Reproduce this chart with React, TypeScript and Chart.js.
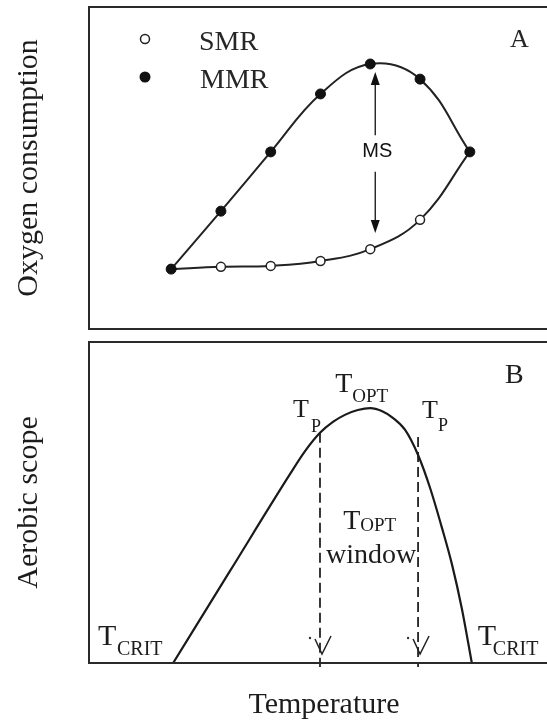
import React, { useEffect, useRef } from 'react';
import { Chart, registerables } from 'chart.js';

Chart.register(...registerables);

// ---------- Panel A: oxygen consumption ----------
const tempSteps = [1, 2, 3, 4, 5, 6, 7];
const mmrValues = [18.6, 36.6, 55.0, 73.0, 82.3, 77.6, 55.0];
const smrValues = [18.6, 19.3, 19.6, 21.1, 24.8, 33.9, 55.0];
const seriesLabels = ['MMR', 'SMR'];
const msArrowX = 5.1;
const msArrowTips = [79.8, 29.8];
const msArrowGap = [60.2, 48.8];
const msLabelValue = 55;

// ---------- Panel B: aerobic scope ----------
const scopeTemps = [1.04, 2.18, 3.39, 3.69, 3.99, 4.25, 4.49, 4.75, 5.0, 5.23, 5.46, 5.7, 5.96, 6.2, 6.44, 6.64, 6.84, 7.04];
const scopeValues = [0, 28.6, 58.9, 66.0, 71.7, 75.1, 77.3, 78.8, 79.4, 78.5, 76.3, 72.6, 64.8, 54.6, 42.1, 30.8, 16.9, 0];
const pejusTemps = [3.99, 5.96];
const pejusTops = [71.7, 70.4];
const pejusBottom = -1.25;
const optTemp = 5;

const axisTitles = ['Oxygen consumption', 'Aerobic scope', 'Temperature'];
const panelTags = ['A', 'B'];

const X_MIN = -0.65;
const X_MAX = 8.55;

const SERIF = '"Liberation Serif", "Times New Roman", serif';
const SANS = '"Liberation Sans", Arial, sans-serif';
const INK = '#1c1c1c';

function txt(ctx: any, s: string, x: number, y: number, size: number, align: any = 'left', family: string = SERIF) {
  ctx.font = `${size}px ${family}`;
  ctx.textAlign = align;
  ctx.textBaseline = 'alphabetic';
  ctx.fillText(s, x, y);
}

// frame with left, top and bottom sides; the right side runs off the picture
function frame(ctx: any, ca: any) {
  ctx.strokeStyle = '#2a2a2a';
  ctx.lineWidth = 2;
  ctx.beginPath();
  ctx.moveTo(ca.right + 5, ca.top);
  ctx.lineTo(ca.left, ca.top);
  ctx.lineTo(ca.left, ca.bottom);
  ctx.lineTo(ca.right + 5, ca.bottom);
  ctx.stroke();
}

function yTitle(ctx: any, ca: any, s: string) {
  ctx.save();
  ctx.translate(37, (ca.top + ca.bottom) / 2);
  ctx.rotate(-Math.PI / 2);
  txt(ctx, s, 0, 0, 30, 'center');
  ctx.restore();
}

const panelAPlugin = {
  id: 'panelA',
  afterDraw(chart: any) {
    const { ctx, chartArea: ca, scales } = chart;
    const xs = scales.x;
    const ys = scales.y;
    ctx.save();
    frame(ctx, ca);
    ctx.fillStyle = INK;
    yTitle(ctx, ca, axisTitles[0]);

    // legend
    const lx = ca.left + 56;
    ctx.lineWidth = 1.5;
    ctx.strokeStyle = '#222';
    ctx.fillStyle = '#fff';
    ctx.beginPath();
    ctx.arc(lx, ca.top + 32, 4.5, 0, Math.PI * 2);
    ctx.fill();
    ctx.stroke();
    ctx.fillStyle = '#111';
    ctx.beginPath();
    ctx.arc(lx, ca.top + 70, 5.5, 0, Math.PI * 2);
    ctx.fill();
    ctx.fillStyle = '#262626';
    txt(ctx, seriesLabels[1], ca.left + 110, ca.top + 43, 28);
    txt(ctx, seriesLabels[0], ca.left + 111, ca.top + 81, 28);

    // panel tag
    txt(ctx, panelTags[0], ca.left + 421, ca.top + 40, 26);

    // MS arrow
    const ax = xs.getPixelForValue(msArrowX);
    const yTop = ys.getPixelForValue(msArrowTips[0]);
    const yBot = ys.getPixelForValue(msArrowTips[1]);
    const g1 = ys.getPixelForValue(msArrowGap[0]);
    const g2 = ys.getPixelForValue(msArrowGap[1]);
    ctx.strokeStyle = '#111';
    ctx.fillStyle = '#111';
    ctx.lineWidth = 1.3;
    ctx.beginPath();
    ctx.moveTo(ax, yTop + 10);
    ctx.lineTo(ax, g1);
    ctx.moveTo(ax, g2);
    ctx.lineTo(ax, yBot - 10);
    ctx.stroke();
    ctx.beginPath();
    ctx.moveTo(ax, yTop);
    ctx.lineTo(ax - 4.5, yTop + 13);
    ctx.lineTo(ax + 4.5, yTop + 13);
    ctx.closePath();
    ctx.fill();
    ctx.beginPath();
    ctx.moveTo(ax, yBot);
    ctx.lineTo(ax - 4.5, yBot - 13);
    ctx.lineTo(ax + 4.5, yBot - 13);
    ctx.closePath();
    ctx.fill();
    ctx.font = `20px ${SANS}`;
    ctx.textAlign = 'center';
    ctx.textBaseline = 'middle';
    ctx.fillText('MS', ax + 2, ys.getPixelForValue(msLabelValue));
    ctx.restore();
  },
};

const panelBPlugin = {
  id: 'panelB',
  afterDraw(chart: any) {
    const { ctx, chartArea: ca, scales } = chart;
    const xs = scales.x;
    ctx.save();
    frame(ctx, ca);
    ctx.fillStyle = INK;
    yTitle(ctx, ca, axisTitles[1]);
    txt(ctx, axisTitles[2], 324, ca.bottom + 50, 30, 'center');
    txt(ctx, panelTags[1], ca.left + 416, ca.top + 41, 28);

    const p1 = xs.getPixelForValue(pejusTemps[0]);
    const p2 = xs.getPixelForValue(pejusTemps[1]);
    const po = xs.getPixelForValue(optTemp);
    const c1 = xs.getPixelForValue(scopeTemps[scopeTemps.length - 1]);

    // open arrowheads at the foot of the dashed lines
    ctx.strokeStyle = '#222';
    ctx.lineWidth = 1.5;
    [p1, p2].forEach((px) => {
      ctx.beginPath();
      ctx.moveTo(px - 5, ca.bottom - 24);
      ctx.lineTo(px + 2, ca.bottom - 9);
      ctx.lineTo(px + 11, ca.bottom - 27);
      ctx.stroke();
      ctx.fillStyle = '#333';
      ctx.beginPath();
      ctx.arc(px - 10, ca.bottom - 25, 1.2, 0, Math.PI * 2);
      ctx.fill();
    });

    ctx.fillStyle = INK;
    // T_CRIT labels
    txt(ctx, 'T', ca.left + 9, ca.bottom - 18, 30);
    txt(ctx, 'CRIT', ca.left + 28, ca.bottom - 8, 20);
    txt(ctx, 'T', c1 + 6, ca.bottom - 18, 30);
    txt(ctx, 'CRIT', c1 + 21, ca.bottom - 8, 20);

    // T_P labels
    txt(ctx, 'T', p1 - 27, ca.top + 75, 26);
    txt(ctx, 'P', p1 - 9, ca.top + 90, 18);
    txt(ctx, 'T', p2 + 4, ca.top + 76, 26);
    txt(ctx, 'P', p2 + 20, ca.top + 89, 18);

    // T_OPT at the peak
    txt(ctx, 'T', po - 35, ca.top + 50, 28);
    txt(ctx, 'OPT', po - 18, ca.top + 60, 19);

    // T_OPT window
    txt(ctx, 'T', po - 27, ca.top + 187, 28);
    txt(ctx, 'OPT', po - 10, ca.top + 189, 19);
    txt(ctx, 'window', (p1 + p2) / 2 + 2, ca.top + 221, 28, 'center');
    ctx.restore();
  },
};

const baseOptions = (padding: any) => ({
  animation: false as const,
  responsive: false,
  maintainAspectRatio: false,
  layout: { padding, autoPadding: false },
  scales: {
    x: { type: 'linear' as const, min: X_MIN, max: X_MAX, display: false },
    y: { type: 'linear' as const, min: 0, max: 100, display: false },
  },
  plugins: { legend: { display: false }, tooltip: { enabled: false } },
});

export default function App() {
  const refA = useRef<HTMLCanvasElement | null>(null);
  const refB = useRef<HTMLCanvasElement | null>(null);

  useEffect(() => {
    const last = smrValues.length - 1;
    const chartA = new Chart(refA.current as HTMLCanvasElement, {
      type: 'line',
      data: {
        datasets: [
          {
            label: seriesLabels[0],
            data: tempSteps.map((x, i) => ({ x, y: mmrValues[i] })),
            borderColor: '#222',
            borderWidth: 2,
            tension: 0.4,
            pointRadius: 5,
            pointBackgroundColor: '#111',
            pointBorderColor: '#111',
            pointBorderWidth: 1,
          },
          {
            label: seriesLabels[1],
            data: tempSteps.map((x, i) => ({ x, y: smrValues[i] })),
            borderColor: '#222',
            borderWidth: 2,
            tension: 0.4,
            pointRadius: smrValues.map((_, i) => (i === 0 || i === last ? 0 : 4.5)),
            pointBackgroundColor: '#fff',
            pointBorderColor: '#222',
            pointBorderWidth: 1.5,
          },
        ],
      },
      options: baseOptions({ left: 89, top: 7, right: 0, bottom: 7 }) as any,
      plugins: [panelAPlugin],
    });

    const chartB = new Chart(refB.current as HTMLCanvasElement, {
      type: 'line',
      data: {
        datasets: [
          {
            label: 'Aerobic scope',
            data: scopeTemps.map((x, i) => ({ x, y: scopeValues[i] })),
            borderColor: '#1a1a1a',
            borderWidth: 2.2,
            cubicInterpolationMode: 'monotone',
            pointRadius: 0,
          },
          ...pejusTemps.map((t, i) => ({
            label: 'T_P ' + (i + 1),
            data: [
              { x: t, y: pejusTops[i] },
              { x: t, y: pejusBottom },
            ],
            borderColor: '#222',
            borderWidth: 1.8,
            borderDash: [10, 5],
            tension: 0,
            pointRadius: 0,
            clip: false,
          })),
        ],
      } as any,
      options: baseOptions({ left: 89, top: 6, right: 0, bottom: 60 }) as any,
      plugins: [panelBPlugin],
    });

    return () => {
      chartA.destroy();
      chartB.destroy();
    };
  }, []);

  return (
    <div
      style={{
        position: 'absolute',
        left: 0,
        top: 0,
        width: 547,
        height: 723,
        overflow: 'hidden',
        background: '#fff',
      }}
    >
      <canvas ref={refA} width={547} height={336} style={{ position: 'absolute', left: 0, top: 0, display: 'block' }} />
      <canvas ref={refB} width={547} height={387} style={{ position: 'absolute', left: 0, top: 336, display: 'block' }} />
    </div>
  );
}
